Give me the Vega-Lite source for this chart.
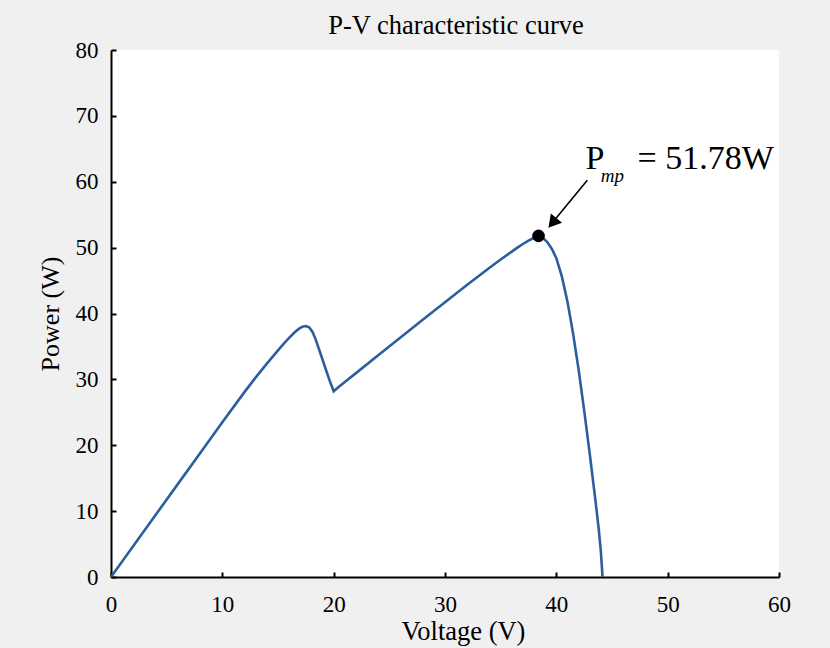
{
  "$schema": "https://vega.github.io/schema/vega-lite/v6.json",
  "width": 668,
  "height": 527,
  "autosize": "none",
  "padding": {"left": 111, "top": 50, "right": 51, "bottom": 71},
  "background": "#f0f0f0",
  "view": {"fill": "white", "stroke": null},
  "config": {"font": "Liberation Serif"},
  "title": {
    "text": "P-V characteristic curve",
    "font": "Liberation Serif",
    "fontSize": 26.5,
    "fontWeight": "normal",
    "color": "black",
    "anchor": "middle",
    "dx": 11,
    "offset": 0
  },
  "datasets": {
    "pv": [
      {"v": 0, "p": 0}, {"v": 1, "p": 2.35}, {"v": 2, "p": 4.7}, {"v": 4, "p": 9.4},
      {"v": 6, "p": 14.1}, {"v": 8, "p": 18.8}, {"v": 10, "p": 23.5}, {"v": 12, "p": 28.1},
      {"v": 13, "p": 30.3}, {"v": 14, "p": 32.4}, {"v": 15, "p": 34.4}, {"v": 15.5, "p": 35.4},
      {"v": 16, "p": 36.3}, {"v": 16.5, "p": 37.15}, {"v": 16.9, "p": 37.7}, {"v": 17.2, "p": 38.0},
      {"v": 17.5, "p": 38.1}, {"v": 17.8, "p": 37.9}, {"v": 18.1, "p": 37.2}, {"v": 18.4, "p": 36.0},
      {"v": 18.7, "p": 34.5}, {"v": 19, "p": 33.0}, {"v": 19.3, "p": 31.5}, {"v": 19.6, "p": 30.0},
      {"v": 20, "p": 28.2}, {"v": 20.5, "p": 28.9}, {"v": 21, "p": 29.6}, {"v": 22, "p": 30.95},
      {"v": 24, "p": 33.65}, {"v": 26, "p": 36.35}, {"v": 28, "p": 39.05}, {"v": 30, "p": 41.7},
      {"v": 32, "p": 44.35}, {"v": 34, "p": 46.95}, {"v": 35, "p": 48.2}, {"v": 36, "p": 49.4},
      {"v": 36.5, "p": 50.0}, {"v": 37, "p": 50.55}, {"v": 37.5, "p": 51.05}, {"v": 38, "p": 51.5},
      {"v": 38.4, "p": 51.78}, {"v": 38.8, "p": 51.5}, {"v": 39.2, "p": 50.8}, {"v": 39.6, "p": 49.8},
      {"v": 40, "p": 48.4}, {"v": 40.5, "p": 45.6}, {"v": 41, "p": 41.8}, {"v": 41.5, "p": 37.0},
      {"v": 42, "p": 31.5}, {"v": 42.5, "p": 25.3}, {"v": 43, "p": 18.7}, {"v": 43.5, "p": 11.8},
      {"v": 43.8, "p": 7.4}, {"v": 44.0, "p": 3.9}, {"v": 44.15, "p": 0}
    ],
    "mpp": [{"v": 38.4, "p": 51.78}],
    "arrow": [{"v": 42.78, "p": 60.24, "v2": 39.9, "p2": 54.3}],
    "arrowhead": [{"v": 39.65, "p": 53.75}],
    "label": [
      {"part": "P", "v": 42.63, "p": 62.0, "txt": "P"},
      {"part": "sub", "v": 44.0, "p": 59.9, "txt": "mp"},
      {"part": "val", "v": 47.3, "p": 62.0, "txt": "= 51.78W"}
    ]
  },
  "encoding": {
    "x": {
      "field": "v",
      "type": "quantitative",
      "scale": {"domain": [0, 60], "nice": false},
      "axis": {
        "title": "Voltage (V)",
        "titleX": 352,
        "values": [0, 10, 20, 30, 40, 50, 60],
        "grid": false,
        "domainColor": "black",
        "domainWidth": 2,
        "tickColor": "black",
        "tickWidth": 2,
        "tickSize": -5,
        "labelFlush": false,
        "labelPadding": 21,
        "labelFont": "Liberation Serif",
        "labelFontSize": 23,
        "labelColor": "black",
        "titleFont": "Liberation Serif",
        "titleFontSize": 26.5,
        "titleFontWeight": "normal",
        "titleColor": "black",
        "titlePadding": 2
      }
    },
    "y": {
      "field": "p",
      "type": "quantitative",
      "scale": {"domain": [0, 80], "nice": false},
      "axis": {
        "title": "Power (W)",
        "values": [0, 10, 20, 30, 40, 50, 60, 70, 80],
        "grid": false,
        "domainColor": "black",
        "domainWidth": 2,
        "tickColor": "black",
        "tickWidth": 2,
        "tickSize": -5,
        "labelFlush": false,
        "labelPadding": 18,
        "labelFont": "Liberation Serif",
        "labelFontSize": 23,
        "labelColor": "black",
        "titleFont": "Liberation Serif",
        "titleFontSize": 26,
        "titleFontWeight": "normal",
        "titleColor": "black",
        "titlePadding": 12
      }
    }
  },
  "layer": [
    {
      "data": {"name": "pv"},
      "mark": {"type": "line", "color": "#2c5e9e", "strokeWidth": 2.6, "clip": true}
    },
    {
      "data": {"name": "mpp"},
      "mark": {"type": "point", "filled": true, "color": "black", "size": 160, "opacity": 1}
    },
    {
      "data": {"name": "arrow"},
      "mark": {"type": "rule", "color": "black", "strokeWidth": 1.6},
      "encoding": {"x2": {"field": "v2"}, "y2": {"field": "p2"}}
    },
    {
      "data": {"name": "arrowhead"},
      "mark": {"type": "point", "shape": "triangle-up", "filled": true, "color": "black", "size": 210, "angle": 219.6, "opacity": 1}
    },
    {
      "data": {"name": "label"},
      "transform": [{"filter": "datum.part === 'P'"}],
      "mark": {"type": "text", "align": "left", "baseline": "alphabetic", "font": "Liberation Serif", "fontSize": 34, "color": "black"},
      "encoding": {"text": {"field": "txt"}}
    },
    {
      "data": {"name": "label"},
      "transform": [{"filter": "datum.part === 'sub'"}],
      "mark": {"type": "text", "align": "left", "baseline": "alphabetic", "font": "Liberation Serif", "fontSize": 19, "fontStyle": "italic", "color": "black"},
      "encoding": {"text": {"field": "txt"}}
    },
    {
      "data": {"name": "label"},
      "transform": [{"filter": "datum.part === 'val'"}],
      "mark": {"type": "text", "align": "left", "baseline": "alphabetic", "font": "Liberation Serif", "fontSize": 34, "color": "black"},
      "encoding": {"text": {"field": "txt"}}
    }
  ]
}
